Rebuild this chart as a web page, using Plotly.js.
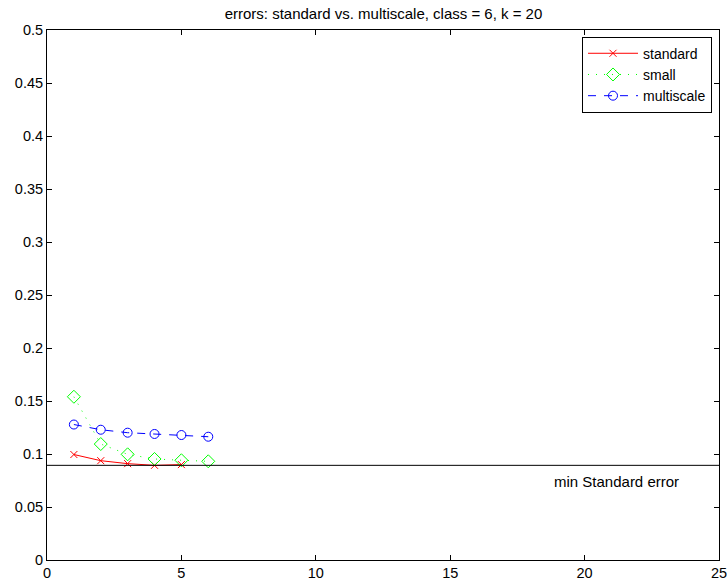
<!DOCTYPE html>
<html>
<head>
<meta charset="utf-8">
<script src="https://cdn.plot.ly/plotly-3.0.1.min.js"></script>
<style>html,body{margin:0;padding:0;background:#fff;}#chart{width:727px;height:580px;}</style>
</head>
<body>
<div id="chart"></div>
<script>
const xStandard = [1, 2, 3, 4, 5];
const yStandard = [0.0995, 0.0937, 0.0909, 0.0893, 0.0900];
const xSmall = [1, 2, 3, 4, 5, 6];
const ySmall = [0.154, 0.1094, 0.0997, 0.0953, 0.0941, 0.0931];
const xMulti = [1, 2, 3, 4, 5, 6];
const yMulti = [0.1278, 0.1229, 0.1201, 0.1189, 0.1179, 0.1163];
const minStandard = 0.0893;
const xTicks = [0, 5, 10, 15, 20, 25];
const yTicks = [0, 0.05, 0.1, 0.15, 0.2, 0.25, 0.3, 0.35, 0.4, 0.45, 0.5];
const yTickText = ['0', '0.05', '0.1', '0.15', '0.2', '0.25', '0.3', '0.35', '0.4', '0.45', '0.5'];

const fam = 'Liberation Sans, Arial, sans-serif';
const tickFont = {family: fam, size: 14.5, color: '#000'};
const textFont = {family: fam, size: 15, color: '#000'};
const legendFont = {family: fam, size: 14, color: '#000'};

const traces = [
  {x: xStandard, y: yStandard, name: 'standard', type: 'scatter', mode: 'lines+markers',
   line: {color: 'rgb(255,0,0)', width: 1},
   marker: {symbol: 'x-thin-open', size: 7, color: 'rgb(255,0,0)', line: {color: 'rgb(255,0,0)', width: 1}}},
  {x: xSmall, y: ySmall, name: 'small', type: 'scatter', mode: 'lines+markers',
   line: {color: 'rgb(0,255,0)', width: 1, dash: '1px,7px'},
   marker: {symbol: 'diamond-open', size: 10, color: 'rgb(0,255,0)', line: {color: 'rgb(0,255,0)', width: 1}}},
  {x: xMulti, y: yMulti, name: 'multiscale', type: 'scatter', mode: 'lines+markers',
   line: {color: 'rgb(0,0,255)', width: 1, dash: '8px,8px'},
   marker: {symbol: 'circle-open', size: 9, color: 'rgb(0,0,255)', line: {color: 'rgb(0,0,255)', width: 1}}}
];

const layout = {
  width: 727, height: 580,
  margin: {l: 46.5, r: 8, t: 30, b: 20, pad: 0},
  paper_bgcolor: '#fff', plot_bgcolor: '#fff',
  font: textFont,
  title: {text: 'errors: standard vs. multiscale, class = 6, k = 20', font: textFont,
          x: 0.5275, xanchor: 'center', y: 0.977, yanchor: 'middle'},
  xaxis: {range: [0, 25], tickvals: xTicks, ticks: 'inside', ticklen: 5, tickcolor: '#000',
          showgrid: false, zeroline: false, showline: true, linecolor: '#000', linewidth: 1, mirror: 'ticks',
          tickfont: tickFont, ticklabeloverflow: 'allow'},
  yaxis: {range: [0, 0.5], tickvals: yTicks, ticktext: yTickText, ticks: 'inside', ticklen: 5, tickcolor: '#000',
          showgrid: false, zeroline: false, showline: true, linecolor: '#000', linewidth: 1, mirror: 'ticks',
          tickfont: tickFont, ticklabeloverflow: 'allow'},
  showlegend: true,
  legend: {x: 0.9896, xanchor: 'right', y: 0.9874, yanchor: 'top', bordercolor: '#000', borderwidth: 1,
           bgcolor: '#fff', font: legendFont, tracegroupgap: 0, itemwidth: 50},
  shapes: [{type: 'line', xref: 'x', yref: 'y', x0: 0, x1: 25, y0: minStandard, y1: minStandard,
            line: {color: '#000', width: 1}}],
  annotations: [{x: 18.8, y: 0.0739, xref: 'x', yref: 'y', text: 'min Standard error', showarrow: false,
                 xanchor: 'left', yanchor: 'middle', font: textFont}]
};

Plotly.newPlot('chart', traces, layout, {displayModeBar: false, staticPlot: true});
</script>
</body>
</html>
